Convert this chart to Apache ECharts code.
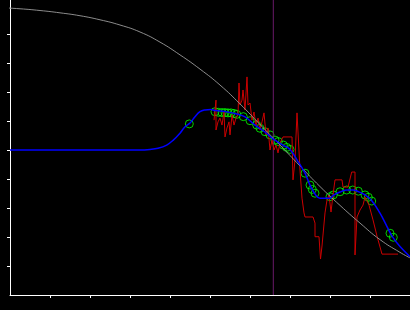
<!DOCTYPE html>
<html>
<head>
<meta charset="utf-8">
<style>
html,body{margin:0;padding:0;background:#000;}
#c{width:410px;height:310px;}
</style>
<script src="https://cdn.jsdelivr.net/npm/echarts@6/dist/echarts.min.js"></script>
</head>
<body>
<div id="c"></div>
<script>
// x in axis units (0..400), y in axis units (1 tick = 1 unit)
var xTicks = [40, 80, 120, 160, 200, 240, 280, 320, 360, 400];
var yTicks = [1, 2, 3, 4, 5, 6, 7, 8, 9];
var markerX = 263.3;

var grayX = [-10, 10, 30, 50, 70, 90, 110, 130, 150, 170, 190, 210, 230, 250, 270, 290, 310, 330, 350, 370, 390, 400];
var grayY = [9.91, 9.87, 9.81, 9.73, 9.63, 9.49, 9.31, 9.07, 8.72, 8.28, 7.79, 7.24, 6.59, 5.88, 5.17, 4.45, 3.74, 3.09, 2.48, 1.91, 1.47, 1.28];

var blueX = [0, 130, 140, 148, 156.7, 163.3, 170, 175, 180, 185, 190, 195, 201, 205, 215, 227, 235, 245, 255, 263, 273, 280, 288, 295, 300, 305, 310, 320, 323, 330, 337, 343, 348, 355, 362, 370, 377, 382, 390, 400];
var blueY = [5.00, 5.00, 5.02, 5.06, 5.17, 5.34, 5.58, 5.80, 5.93, 6.15, 6.32, 6.38, 6.40, 6.36, 6.33, 6.24, 6.14, 5.86, 5.62, 5.38, 5.17, 5.02, 4.60, 4.20, 3.79, 3.48, 3.34, 3.34, 3.43, 3.55, 3.62, 3.62, 3.57, 3.45, 3.24, 2.82, 2.36, 2.03, 1.67, 1.32];

var redX = [204, 206, 206, 208, 210, 212, 214, 215, 217, 219, 220, 222, 224, 226, 228, 229, 230, 232, 233, 235, 237, 238, 240, 242, 244, 246, 248, 250, 252, 254, 256, 258, 260, 262, 264, 266, 268, 270, 273, 282, 283, 285, 287, 289, 290, 292, 294, 295, 303, 305, 305, 309, 310.5, 312, 315, 317, 319, 321, 323, 325, 332, 333, 338, 341.7, 345, 345, 347, 350, 353, 355, 359, 363, 367, 372, 388];
var redY = [6.03, 6.72, 5.69, 5.97, 6.10, 5.86, 6.31, 5.45, 5.76, 5.97, 5.52, 6.21, 5.86, 6.10, 6.21, 7.31, 6.55, 6.72, 7.07, 6.38, 7.52, 6.55, 6.62, 6.03, 6.31, 5.86, 6.10, 5.69, 5.97, 6.28, 5.52, 5.76, 5.00, 5.34, 5.00, 5.17, 4.90, 5.24, 5.45, 5.45, 3.97, 4.66, 6.28, 6.28, 4.31, 3.34, 2.83, 2.69, 2.69, 2.48, 2.01, 2.01, 1.24, 1.69, 2.83, 3.28, 3.45, 2.86, 3.45, 3.97, 3.97, 3.72, 3.72, 4.24, 4.24, 1.38, 2.69, 2.93, 3.10, 3.38, 3.10, 2.59, 2.03, 1.41, 1.41];

var ptsX = [179.3, 205, 208.3, 212, 215, 218, 221, 224, 226.7, 233.3, 240, 246.7, 250, 255, 260, 265, 268.3, 273.3, 276.7, 280, 295, 300, 302.3, 305, 320, 323.3, 330, 336.7, 342.7, 348.3, 355, 358.3, 361.7, 380, 383.3];
var ptsY = [5.90, 6.32, 6.30, 6.29, 6.29, 6.28, 6.28, 6.26, 6.23, 6.15, 6.01, 5.86, 5.75, 5.63, 5.52, 5.34, 5.29, 5.17, 5.09, 5.02, 4.20, 3.79, 3.64, 3.51, 3.39, 3.45, 3.56, 3.62, 3.62, 3.58, 3.45, 3.37, 3.24, 2.13, 1.99];

function zip(a, b) { return a.map(function (v, i) { return [v, b[i]]; }); }
var yMax = 295 / 29;

var chart = echarts.init(document.getElementById('c'), null, {renderer: 'canvas'});
chart.setOption({
  backgroundColor: '#000000',
  animation: false,
  grid: {left: 10, right: 0, top: 0, bottom: 15},
  xAxis: {
    type: 'value', min: 0, max: 400,
    axisLine: {show: true, onZero: false, lineStyle: {color: '#ffffff', width: 1}},
    axisTick: {show: true, length: 3, customValues: xTicks, lineStyle: {color: '#ffffff', width: 1}},
    axisLabel: {show: false},
    splitLine: {show: false}
  },
  yAxis: {
    type: 'value', min: 0, max: yMax,
    axisLine: {show: true, onZero: false, lineStyle: {color: '#ffffff', width: 1}},
    axisTick: {show: true, length: 3, customValues: yTicks, lineStyle: {color: '#ffffff', width: 1}},
    axisLabel: {show: false},
    splitLine: {show: false}
  },
  series: [
    {
      type: 'line', data: [[markerX, 0], [markerX, yMax]], showSymbol: false, symbol: 'none',
      lineStyle: {color: '#6a1a6a', width: 1}, silent: true
    },
    {
      type: 'line', data: zip(redX, redY), symbol: 'none',
      lineStyle: {color: '#cc0000', width: 1}
    },
    {
      type: 'line', data: zip(grayX, grayY), symbol: 'none', smooth: true, clip: false,
      lineStyle: {color: '#8c8c8c', width: 1}
    },
    {
      type: 'line', data: zip(blueX, blueY), symbol: 'none', smooth: 0.4,
      lineStyle: {color: '#0000ff', width: 1.5}
    },
    {
      type: 'scatter', data: zip(ptsX, ptsY), symbol: 'circle', symbolSize: 8,
      itemStyle: {color: 'rgba(0,0,0,0)', borderColor: '#00ff00', borderWidth: 1}
    }
  ]
});
</script>
</body>
</html>
